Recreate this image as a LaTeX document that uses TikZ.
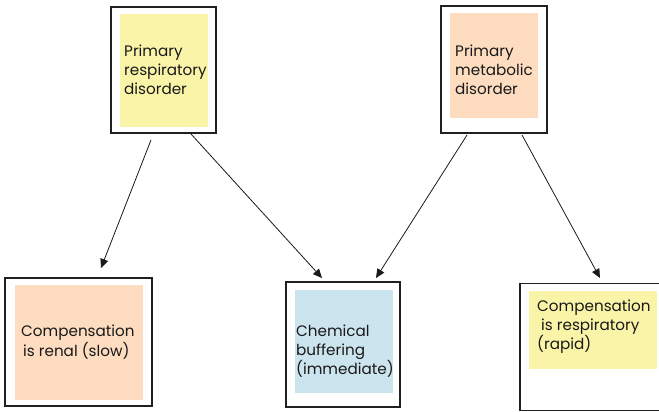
\documentclass[tikz,border=0pt]{standalone}
\usepackage{fontspec}
\setmainfont{Poppins}
\usetikzlibrary{arrows.meta}

\definecolor{padyellow}{HTML}{FAF4A8}
\definecolor{padpeach}{HTML}{FDDCC0}
\definecolor{padblue}{HTML}{CCE4EE}
\definecolor{frameline}{HTML}{202020}

\tikzset{
  frame/.style={draw=frameline, line width=1.3pt, fill=white, inner sep=0pt},
  pad/.style={inner sep=0pt, draw=none},
  label/.style={inner sep=0pt, align=left, anchor=north west,
    font=\fontsize{15.2}{19.3}\selectfont, text=black!90},
  link/.style={draw=black!90, line width=0.8pt, -{Triangle[length=9pt,width=8pt]}}
}

\begin{document}
\begin{tikzpicture}[x=1pt,y=-1pt]
\useasboundingbox (0,0) rectangle (659,412);

% top row: primary disorders
\node[frame, minimum width=105pt, minimum height=126pt] (resp) at (163.5,70) {};
\node[pad, fill=padyellow, minimum width=88pt, minimum height=113pt] (respin) at (164,70.5) {};
\node[label] (resptxt) at (124,44.5) {Primary\\respiratory\\disorder};

\node[frame, minimum width=106pt, minimum height=127pt] (meta) at (494,69.5) {};
\node[pad, fill=padpeach, minimum width=88pt, minimum height=105pt] (metain) at (494,65.5) {};
\node[label] (metatxt) at (455,44.5) {Primary\\metabolic\\disorder};

% bottom row: responses
\node[frame, minimum width=147pt, minimum height=128pt] (renal) at (78.5,342) {};
\node[pad, fill=padpeach, minimum width=128pt, minimum height=115pt] (renalin) at (79,342.5) {};
\node[label] (renaltxt) at (21,325) {Compensation\\\hspace{2pt}is renal (slow)};

\node[frame, minimum width=114pt, minimum height=125pt] (buff) at (343,344.5) {};
\node[pad, fill=padblue, minimum width=98pt, minimum height=103pt] (buffin) at (344,341.5) {};
\node[label] (bufftxt) at (296,324.5) {Chemical\\buffering\\(immediate)};

\node[frame, minimum width=152pt, minimum height=127pt] (respcomp) at (596,347) {};
\node[pad, fill=padyellow, minimum width=128pt, minimum height=78pt] (respcompin) at (593,330) {};
\node[label] (respcomptxt) at (537,299.5) {Compensation\\\hspace{4pt}is respiratory\\(rapid)};

% connector end points
\coordinate (a1s) at (151,140);
\coordinate (a1e) at (101,268);
\coordinate (a2s) at (191,134);
\coordinate (a2e) at (322,278);
\coordinate (a3s) at (467,135);
\coordinate (a3e) at (376,278);
\coordinate (a4s) at (522,135);
\coordinate (a4e) at (600,278);

\draw[link] (a1s) -- (a1e);
\draw[link] (a2s) -- (a2e);
\draw[link] (a3s) -- (a3e);
\draw[link] (a4s) -- (a4e);
\end{tikzpicture}
\end{document}
